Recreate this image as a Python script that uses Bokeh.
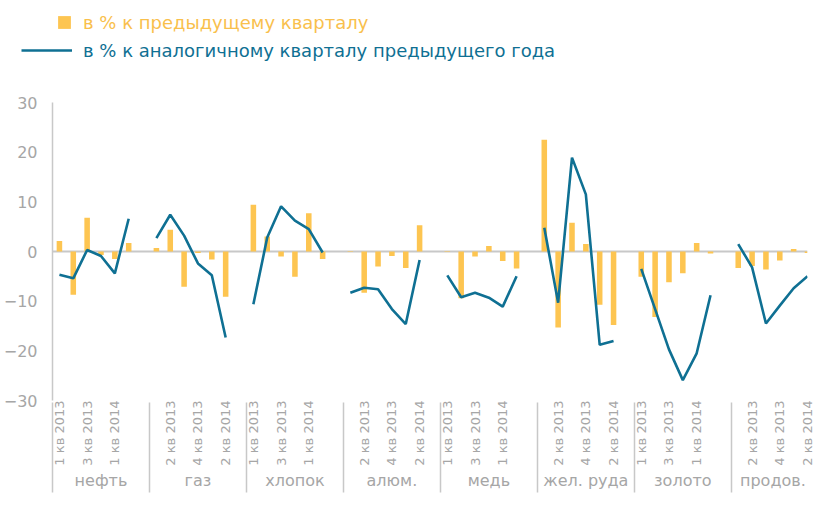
import math
from bokeh.plotting import figure
from bokeh.layouts import column
from bokeh.models import (ColumnDataSource, FixedTicker, LinearAxis, Span, Legend,
                          LegendItem, Range1d)
from bokeh.embed import file_html
from bokeh.resources import INLINE

# ---------------- data ----------------
groups = ["нефть", "газ", "хлопок", "алюм.", "медь", "жел. руда", "золото", "продов."]
quarters = ["1 кв 2013", "2 кв 2013", "3 кв 2013", "4 кв 2013", "1 кв 2014", "2 кв 2014"]
y_ticks = [-30, -20, -10, 0, 10, 20, 30]

# в % к предыдущему кварталу
qoq_oil = [2.1, -8.7, 6.8, -0.7, -1.5, 1.7]
qoq_gas = [0.7, 4.4, -7.1, -0.3, -1.6, -9.1]
qoq_cotton = [9.4, 3.0, -1.0, -5.1, 7.7, -1.5]
qoq_alum = [-0.1, -8.3, -3.0, -0.9, -3.3, 5.3]
qoq_copper = [-0.1, -9.4, -1.0, 1.1, -1.9, -3.4]
qoq_iron = [22.5, -15.3, 5.8, 1.5, -10.7, -14.8]
qoq_gold = [-5.1, -13.2, -6.2, -4.4, 1.7, -0.4]
qoq_food = [-3.3, -2.9, -3.6, -1.8, 0.5, -0.3]

# в % к аналогичному кварталу предыдущего года
yoy_oil = [-4.7, -5.4, 0.3, -0.9, -4.4, 6.6]
yoy_gas = [2.7, 7.4, 3.2, -2.4, -4.8, -17.3]
yoy_cotton = [-10.6, 2.8, 9.1, 6.2, 4.5, -0.2]
yoy_alum = [-8.3, -7.3, -7.6, -11.6, -14.6, -1.7]
yoy_copper = [-4.8, -9.2, -8.3, -9.3, -11.1, -5.0]
yoy_iron = [4.8, -10.3, 18.9, 11.5, -18.8, -18.0]
yoy_gold = [-3.5, -11.6, -19.7, -25.9, -20.5, -8.8]
yoy_food = [1.5, -3.2, -14.5, -10.9, -7.4, -5.0]

qoq_all = [qoq_oil, qoq_gas, qoq_cotton, qoq_alum, qoq_copper, qoq_iron, qoq_gold, qoq_food]
yoy_all = [yoy_oil, yoy_gas, yoy_cotton, yoy_alum, yoy_copper, yoy_iron, yoy_gold, yoy_food]

# ---------------- positions (7 slots per group, last slot empty) ----------------
SLOT = 7
xs, bar_vals, line_x, line_y = [], [], [], []
for g in range(len(groups)):
    for q in range(len(quarters)):
        xs.append(g * SLOT + q)
        bar_vals.append(qoq_all[g][q])
        line_x.append(g * SLOT + q)
        line_y.append(yoy_all[g][q])
    if g < len(groups) - 1:
        line_x.append(g * SLOT + len(quarters))
        line_y.append(float("nan"))

n_slots = SLOT * (len(groups) - 1) + len(quarters)

FONT = "DejaVu Sans"
GRAY = "#a6a6a6"
LINEGRAY = "#c8c8c8"
YELLOW = "#fdc551"
TEAL = "#0f7093"

bar_src = ColumnDataSource(dict(x=xs, top=bar_vals))
line_src = ColumnDataSource(dict(x=line_x, y=line_y))

# ---------------- legend strip (same series, data kept out of its view) ----------------
LEG_H = 93
lf = figure(width=816, height=LEG_H, output_backend="svg", toolbar_location=None,
            x_range=Range1d(1000, 1001), y_range=Range1d(1000, 1001), min_border=0,
            x_axis_location=None, y_axis_location=None)
lf.frame_align = False
lf.outline_line_color = None
lf.xgrid.visible = False
lf.ygrid.visible = False
leg_bar = lf.vbar(x="x", top="top", bottom=0, width=0.4, source=bar_src,
                  fill_color=YELLOW, line_color=None)
leg_line = lf.line(x="x", y="y", source=line_src, line_color=TEAL, line_width=2.6)

leg1 = Legend(items=[LegendItem(label="в % к предыдущему кварталу", renderers=[leg_bar])],
              location=(56, LEG_H - 11 - 22), glyph_width=16, glyph_height=16, label_standoff=11,
              padding=0, margin=0, border_line_color=None, background_fill_alpha=0,
              label_text_font=FONT, label_text_font_size="18px", label_text_color="#f9c04c",
              label_height=22)
leg2 = Legend(items=[LegendItem(label="в % к аналогичному кварталу предыдущего года", renderers=[leg_line])],
              location=(21, LEG_H - 39 - 22), glyph_width=51, glyph_height=22, label_standoff=11,
              padding=0, margin=0, border_line_color=None, background_fill_alpha=0,
              label_text_font=FONT, label_text_font_size="18px", label_text_color=TEAL,
              label_height=22)
lf.add_layout(leg1, "center")
lf.add_layout(leg2, "center")

# ---------------- main chart ----------------
p = figure(width=816, height=402, output_backend="svg", toolbar_location=None,
           x_range=Range1d(-0.5, n_slots - 1.0), y_range=Range1d(-30, 30),
           min_border_left=44, min_border_right=9, min_border_top=9, min_border_bottom=95,
           x_axis_location=None, y_axis_location=None)
p.frame_align = False
p.outline_line_color = None
p.xgrid.visible = False
p.ygrid.visible = False
p.background_fill_color = "white"
p.border_fill_color = "white"

# zero line (category axis line)
p.add_layout(Span(location=0, dimension="width", line_color=LINEGRAY, line_width=2,
                  level="underlay"))

bars = p.vbar(x="x", top="top", bottom=0, width=0.4, source=bar_src,
              fill_color=YELLOW, line_color=None)
ln = p.line(x="x", y="y", source=line_src, line_color=TEAL, line_width=2.6)

# y axis
yax = LinearAxis(ticker=FixedTicker(ticks=y_ticks, minor_ticks=[]))
yax.axis_line_color = LINEGRAY
yax.axis_line_width = 1.5
yax.major_tick_out = 0
yax.major_tick_in = 0
yax.minor_tick_line_color = None
yax.major_label_standoff = 15
yax.major_label_text_font = FONT
yax.major_label_text_font_size = "16px"
yax.major_label_text_color = GRAY
p.add_layout(yax, "left")

# quarter labels axis (every other slot)
q_ticks = [i for i in range(0, n_slots, 2) if i % SLOT < len(quarters)]
q_over = {i: quarters[i % SLOT] for i in q_ticks}
qax = LinearAxis(ticker=FixedTicker(ticks=q_ticks, minor_ticks=[]))
qax.major_label_overrides = q_over
qax.major_label_orientation = math.pi / 2
qax.axis_line_color = None
qax.major_tick_line_color = None
qax.minor_tick_line_color = None
qax.major_tick_out = 0
qax.major_tick_in = 0
qax.minor_tick_out = 0
qax.minor_tick_in = 0
qax.major_label_standoff = 0
qax.major_label_text_font = FONT
qax.major_label_text_font_size = "13px"
qax.major_label_text_color = GRAY
p.add_layout(qax, "below")

# group labels axis
g_ticks = [g * SLOT - 0.5 + (SLOT if g < len(groups) - 1 else len(quarters)) / 2
           for g in range(len(groups))]
gax = LinearAxis(ticker=FixedTicker(ticks=g_ticks, minor_ticks=[]))
gax.major_label_overrides = {t: name for t, name in zip(g_ticks, groups)}
gax.axis_line_color = None
gax.major_tick_line_color = None
gax.minor_tick_line_color = None
gax.major_tick_out = 0
gax.major_tick_in = 0
gax.minor_tick_out = 0
gax.minor_tick_in = 0
gax.major_label_standoff = 2
gax.major_label_text_font = FONT
gax.major_label_text_font_size = "16px"
gax.major_label_text_color = GRAY
p.add_layout(gax, "below")

# group separators: outermost axis whose ticks reach up to the plot frame
sep_ticks = [g * SLOT - 0.5 for g in range(len(groups))]
sax = LinearAxis(ticker=FixedTicker(ticks=sep_ticks, minor_ticks=[]))
sax.major_label_overrides = {t: "" for t in sep_ticks}
sax.major_label_text_font_size = "1px"
sax.major_label_standoff = 0
sax.axis_line_color = None
sax.minor_tick_line_color = None
sax.major_tick_line_color = LINEGRAY
sax.major_tick_line_width = 1.5
sax.major_tick_out = 0
sax.major_tick_in = 90
p.add_layout(sax, "below")

open("out.html", "w").write(file_html(column(lf, p), INLINE))
